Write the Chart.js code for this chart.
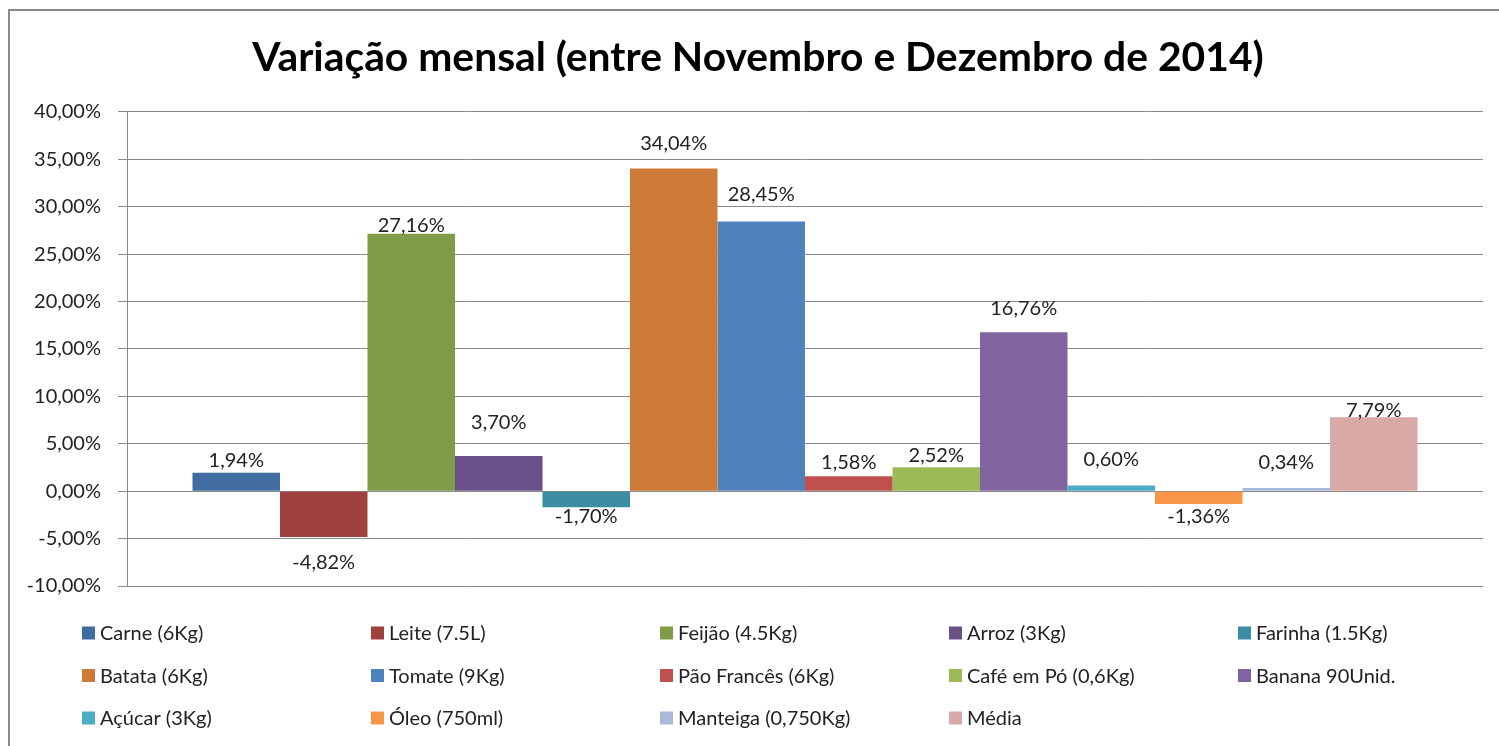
<!DOCTYPE html>
<html>
<head>
<meta charset="utf-8">
<script src="https://cdn.jsdelivr.net/npm/chart.js@4/dist/chart.umd.min.js"></script>
<style>
  html, body { margin: 0; padding: 0; background: #fff; overflow: hidden; }
  #frame { position: absolute; left: 8px; top: 9px; width: 1600px; height: 900px;
           border-left: 2px solid #898989; border-top: 2px solid #898989; }
  #wrap { position: absolute; left: 0; top: 0; width: 1499px; height: 746px; }
</style>
</head>
<body>
<div id="frame"></div>
<div id="wrap"><canvas id="c" width="1499" height="746"></canvas></div>
<script>
// ---- data ----
const categories = [''];
const seriesNames = [
  'Carne (6Kg)', 'Leite (7.5L)', 'Feijão (4.5Kg)', 'Arroz (3Kg)', 'Farinha (1.5Kg)',
  'Batata (6Kg)', 'Tomate (9Kg)', 'Pão Francês (6Kg)', 'Café em Pó (0,6Kg)', 'Banana 90Unid.',
  'Açúcar (3Kg)', 'Óleo (750ml)', 'Manteiga (0,750Kg)', 'Média'
];
const seriesValues = [1.94, -4.82, 27.16, 3.70, -1.70, 34.04, 28.45, 1.58, 2.52, 16.76, 0.60, -1.36, 0.34, 7.79];
const yMin = -10, yMax = 40, yStep = 5;
const titleText = 'Variação mensal (entre Novembro e Dezembro de 2014)';

// ---- styles ----
const seriesColors = [
  '#416C9F', '#A0403F', '#809C48', '#6A5088', '#3A8DA3',
  '#CD7A38', '#4F81BD', '#C0504D', '#9BBB59', '#8064A2',
  '#4BACC6', '#F79646', '#A9BADB', '#D9A9A8'
];
const labelOffset = [12, 26, 8, 34, 9, 25, 27, 14, 12, 24, 26, 12, 25, 7];
const FONT = 'Lato, "Open Sans", sans-serif';
const fmt = v => v.toFixed(2).replace('.', ',') + '%';

const datasets = seriesNames.map((name, i) => ({
  label: name,
  data: [seriesValues[i]],
  backgroundColor: seriesColors[i],
  borderWidth: 0,
  barPercentage: 1,
  categoryPercentage: 0.9034
}));

const valueLabels = {
  id: 'valueLabels',
  afterDatasetsDraw(chart) {
    const ctx = chart.ctx;
    ctx.save();
    ctx.font = '20px ' + FONT;
    ctx.fillStyle = '#222';
    ctx.textAlign = 'center';
    ctx.textBaseline = 'middle';
    chart.data.datasets.forEach((ds, i) => {
      const meta = chart.getDatasetMeta(i);
      meta.data.forEach((bar, j) => {
        const v = ds.data[j];
        const y = v >= 0 ? bar.y - labelOffset[i] : bar.y + labelOffset[i];
        ctx.fillText(fmt(v), bar.x, y);
      });
    });
    ctx.restore();
  }
};

const gridLegend = {
  id: 'gridLegend',
  afterDraw(chart) {
    const ctx = chart.ctx;
    ctx.save();
    ctx.font = '20px ' + FONT;
    ctx.textBaseline = 'middle';
    ctx.textAlign = 'left';
    chart.data.datasets.forEach((ds, i) => {
      const col = i % 5, row = Math.floor(i / 5);
      const x = 82 + col * 289;
      const y = 633 + row * 42.5;
      ctx.fillStyle = ds.backgroundColor;
      ctx.fillRect(x, y - 6.5, 13, 13);
      ctx.fillStyle = '#222';
      ctx.fillText(ds.label, x + 18, y + 1);
    });
    ctx.restore();
  }
};

// centre the title over the framed chart (frame starts at x≈33 offset)
const titleShift = {
  id: 'titleShift',
  afterLayout(chart) {
    if (chart.titleBlock) chart.titleBlock.left = 33;
  }
};

new Chart(document.getElementById('c'), {
  type: 'bar',
  data: { labels: categories, datasets },
  options: {
    responsive: false,
    animation: false,
    devicePixelRatio: 1,
    layout: { padding: { left: 0, right: 16, top: 0, bottom: 160 } },
    plugins: {
      legend: { display: false },
      tooltip: { enabled: false },
      title: {
        display: true,
        text: titleText,
        color: '#000',
        font: { family: FONT, size: 40.8, weight: 'bold', lineHeight: 1.2 },
        padding: { top: 33.5, bottom: 29.5 }
      }
    },
    scales: {
      x: { display: false },
      y: {
        min: yMin, max: yMax,
        afterFit(scale) { scale.width = 127; },
        ticks: {
          stepSize: yStep,
          color: '#222',
          padding: 17,
          font: { family: FONT, size: 20 },
          callback: v => fmt(v)
        },
        grid: { color: '#8a8a8a', lineWidth: 1, drawTicks: true, tickLength: 9 },
        border: { display: true, color: '#8a8a8a', width: 1 }
      }
    }
  },
  plugins: [valueLabels, gridLegend, titleShift]
});
</script>
</body>
</html>
